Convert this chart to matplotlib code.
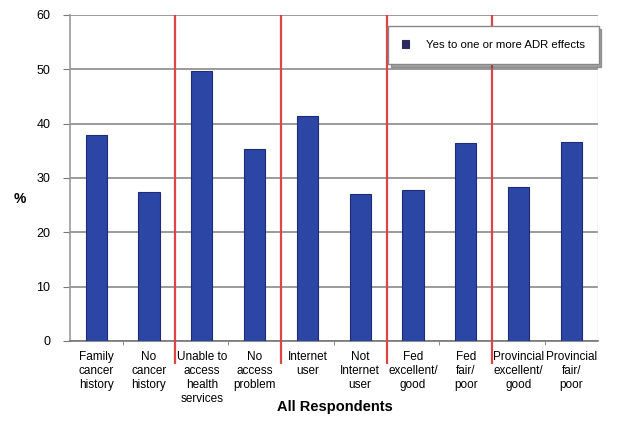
import matplotlib
matplotlib.use("Agg")
import matplotlib.pyplot as plt

# categories and values (% saying yes to one or more ADR effects)
categories = ["Family\ncancer\nhistory", "No\ncancer\nhistory",
              "Unable to\naccess\nhealth\nservices", "No\naccess\nproblem",
              "Internet\nuser", "Not\nInternet\nuser",
              "Fed\nexcellent/\ngood", "Fed\nfair/\npoor",
              "Provincial\nexcellent/\ngood", "Provincial\nfair/\npoor"]
values = [37.8, 27.4, 49.7, 35.4, 41.3, 27.1, 27.8, 36.4, 28.3, 36.6]
yticks = [0, 10, 20, 30, 40, 50, 60]
group_breaks = [1.5, 3.5, 5.5, 7.5]

plt.rcParams['font.family'] = ['Liberation Sans Narrow', 'Liberation Sans', 'DejaVu Sans']

fig = plt.figure(figsize=(6.4, 4.24), dpi=100)
ax = fig.add_axes([0.109, 0.196, 0.825, 0.769])

x = list(range(len(values)))
ax.bar(x, values, width=0.4, color='#2C46A6', edgecolor='#1C2C78',
       linewidth=0.8, label='Yes to one or more ADR effects', zorder=3)

ax.set_xlim(-0.5, len(values) - 0.5)
ax.set_ylim(0, 60)
ax.set_yticks(yticks)
ax.set_yticklabels([str(t) for t in yticks], fontsize=9)
ax.yaxis.grid(True, color='#8a8a8a', linewidth=1.2, zorder=0)
ax.set_xticks(x)
ax.set_xticklabels(categories, fontsize=8.5, linespacing=1.25)
ax.tick_params(axis='x', length=0, pad=7)
ax.tick_params(axis='y', length=5, color='#777777', pad=9)

# small tick marks between categories
ax.set_xticks([i + 0.5 for i in x[:-1]], minor=True)
ax.tick_params(axis='x', which='minor', length=3, color='#777777')

for s in ['top', 'right']:
    ax.spines[s].set_visible(False)
ax.spines['left'].set_color('#999999')
ax.spines['left'].set_linewidth(1.2)
ax.spines['bottom'].set_color('#777777')
ax.spines['bottom'].set_linewidth(1.2)
ax.axvline(len(values) - 0.5, color='#cccccc', linewidth=1.0)

# red separators between groups
ax.vlines(group_breaks, -4.3, 60, colors='#dd4444', linewidth=1.6,
          clip_on=False, zorder=4)

ax.set_ylabel('%', rotation=0, fontsize=10, fontweight='bold')
ax.yaxis.set_label_coords(-0.095, 0.415)
fig.text(0.523, 1 - 407 / 424, 'All Respondents', fontsize=10.5,
         fontweight='bold', ha='center', va='center')

leg = ax.legend(loc='upper right', bbox_to_anchor=(1.008, 0.975), fontsize=8.2,
                frameon=True, fancybox=False, shadow=True,
                handlelength=0.6, handleheight=0.6, borderpad=1.2,
                handletextpad=1.5, borderaxespad=0.3)
leg.get_frame().set_edgecolor('#888888')
leg.get_frame().set_linewidth(1.0)
leg.set_zorder(6)
for h in leg.legend_handles:
    h.set_color('#2a2a60')

fig.savefig('out.png', dpi=100, facecolor='white')
